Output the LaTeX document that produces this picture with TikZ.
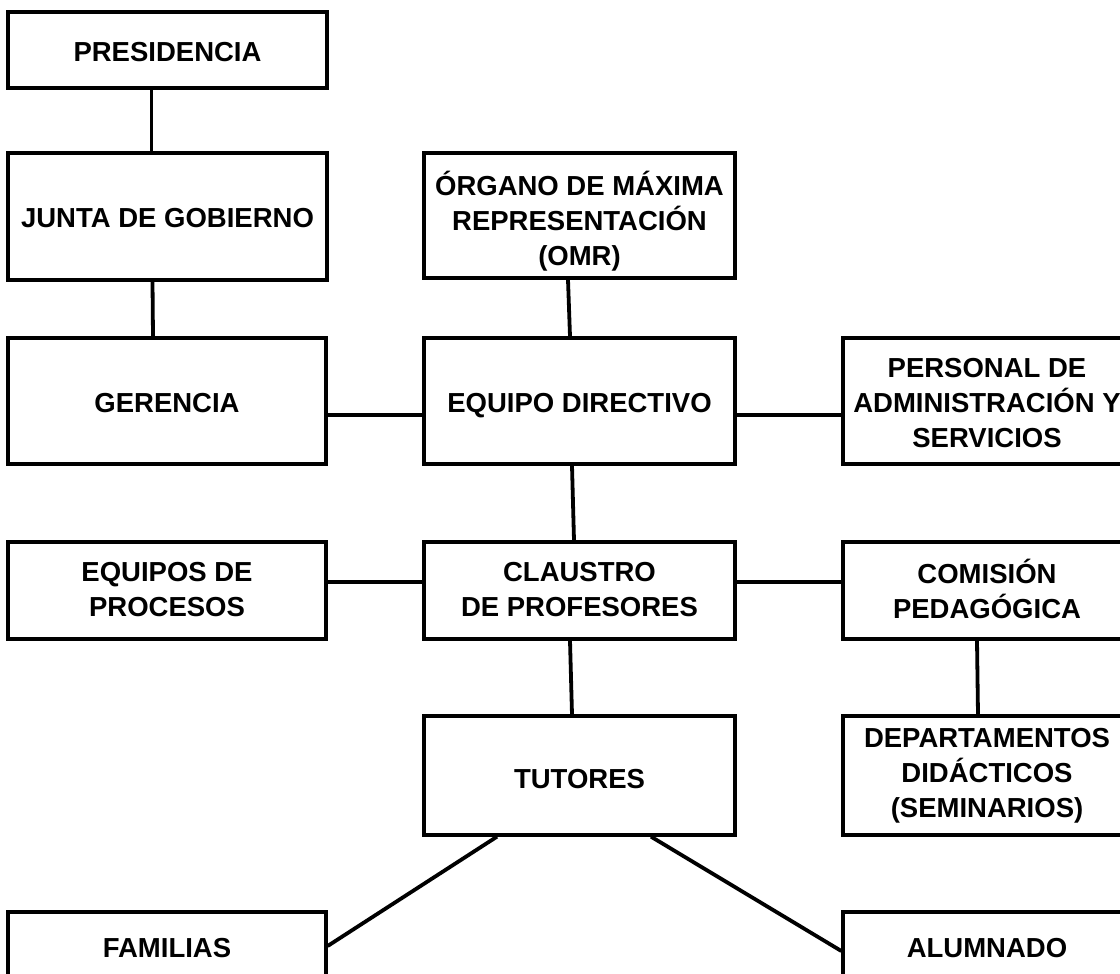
\documentclass[tikz,border=0pt]{standalone}
\usepackage{fontspec}
\setmainfont{Liberation Sans}
\begin{document}
\begin{tikzpicture}[x=1pt,y=-1pt,
  box/.style={draw=black, line width=3.3pt, rectangle, inner sep=0pt},
  txt/.style={align=center, inner sep=0pt, text=black,
    font=\fontsize{27.5}{35}\selectfont\bfseries,
    execute at begin node=\rule{0pt}{26pt},
    execute at end node=\rule[-7pt]{0pt}{7pt}},
  conn/.style={draw=black, line width=3.8pt}]
\useasboundingbox (0,0) rectangle (1120,974);
\clip (0,0) rectangle (1120,974);
\fill[white] (0,0) rectangle (1120,974);
% left column
\node[box, minimum width=319pt, minimum height=76pt,
  label={[txt, yshift=-2pt]center:PRESIDENCIA}] (pres) at (167.5,50) {};
\node[box, minimum width=319pt, minimum height=127pt,
  label={[txt, yshift=-1.5pt]center:JUNTA DE GOBIERNO}] (junta) at (167.5,216.5) {};
\node[box, minimum width=318pt, minimum height=126pt,
  label={[txt, yshift=-2pt]center:GERENCIA}] (ger) at (167,401) {};
\node[box, minimum width=318pt, minimum height=97pt,
  label={[txt, yshift=-2pt]center:{EQUIPOS DE\\PROCESOS}}] (eqp) at (167,590.5) {};
\node[box, minimum width=318pt, minimum height=72pt,
  label={[txt]center:FAMILIAS}] (fam) at (167,948) {};
% middle column
\node[box, minimum width=311pt, minimum height=125pt,
  label={[txt, yshift=-6pt]center:{ÓRGANO DE MÁXIMA\\REPRESENTACIÓN\\(OMR)}}] (omr) at (579.5,215.5) {};
\node[box, minimum width=311pt, minimum height=126pt,
  label={[txt, yshift=-2pt]center:EQUIPO DIRECTIVO}] (eqd) at (579.5,401) {};
\node[box, minimum width=311pt, minimum height=97pt,
  label={[txt, yshift=-2pt]center:{CLAUSTRO\\DE PROFESORES}}] (cla) at (579.5,590.5) {};
\node[box, minimum width=311pt, minimum height=119pt,
  label={[txt, yshift=-3pt]center:TUTORES}] (tut) at (579.5,775.5) {};
% right column
\node[box, minimum width=288pt, minimum height=126pt,
  label={[txt, yshift=-5pt]center:{PERSONAL DE\\ADMINISTRACIÓN Y\\SERVICIOS}}] (pas) at (987,401) {};
\node[box, minimum width=288pt, minimum height=97pt,
  label={[txt, yshift=-2pt]center:{COMISIÓN\\PEDAGÓGICA}}] (com) at (987,590.5) {};
\node[box, minimum width=288pt, minimum height=119pt,
  label={[txt, yshift=-1pt]center:{DEPARTAMENTOS\\DIDÁCTICOS\\(SEMINARIOS)}}] (dep) at (987,775.5) {};
\node[box, minimum width=288pt, minimum height=72pt,
  label={[txt]center:ALUMNADO}] (alu) at (987,948) {};
% connectors
\draw[conn] ([xshift=-16pt]pres.south) -- ([xshift=-16pt]junta.north);
\draw[conn] ([xshift=-15pt]junta.south) -- ([xshift=-14pt]ger.north);
\draw[conn] ([xshift=-11.5pt]omr.south) -- ([xshift=-9.5pt]eqd.north);
\draw[conn] ([yshift=-14pt]ger.east) -- ([yshift=-14pt]eqd.west);
\draw[conn] ([yshift=-14pt]eqd.east) -- ([yshift=-14pt]pas.west);
\draw[conn] ([xshift=-7.5pt]eqd.south) -- ([xshift=-5.5pt]cla.north);
\draw[conn] ([yshift=8.5pt]eqp.east) -- ([yshift=8.5pt]cla.west);
\draw[conn] ([yshift=8.5pt]cla.east) -- ([yshift=8.5pt]com.west);
\draw[conn] ([xshift=-9.5pt]cla.south) -- ([xshift=-7.5pt]tut.north);
\draw[conn] ([xshift=-10pt]com.south) -- ([xshift=-9pt]dep.north);
\draw[conn] ([xshift=-82.5pt]tut.south) -- ([yshift=2pt]fam.east);
\draw[conn] ([xshift=71.5pt]tut.south) -- ([yshift=-3pt]alu.west);
\end{tikzpicture}
\end{document}
